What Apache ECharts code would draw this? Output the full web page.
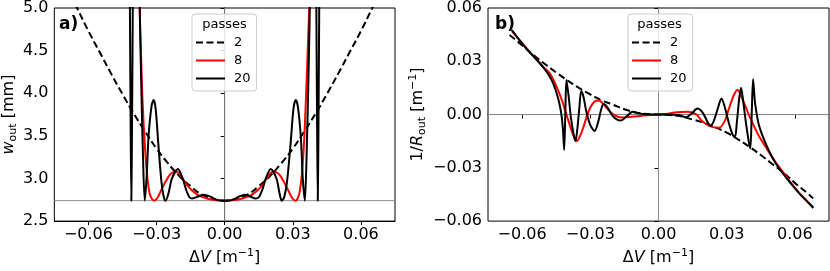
<!DOCTYPE html>
<html>
<head>
<meta charset="utf-8">
<script src="https://cdn.jsdelivr.net/npm/echarts@6/dist/echarts.min.js"></script>
<style>html,body{margin:0;padding:0;background:#fff}#c{width:830px;height:271px}</style>
</head>
<body>
<div id="c"></div>
<script>
// ---- data ----
const xTicks = [-0.06, -0.03, 0, 0.03, 0.06];
const passNames = ['2', '8', '20'];
const wRef = 2.74;

// panel a) w_out [mm]
const w2 = [[-0.070,5.27],[-0.065,5.00],[-0.060,4.73],[-0.055,4.48],[-0.050,4.23],[-0.045,3.99],[-0.040,3.76],[-0.035,3.55],[-0.030,3.35],[-0.025,3.18],[-0.020,3.03],[-0.015,2.91],[-0.010,2.81],[-0.005,2.76],[0,2.74],[0.005,2.76],[0.010,2.81],[0.015,2.91],[0.020,3.03],[0.025,3.18],[0.030,3.35],[0.035,3.55],[0.040,3.76],[0.045,3.99],[0.050,4.23],[0.055,4.48],[0.060,4.73],[0.065,5.00],[0.070,5.27]];

const w8 = [[-0.070,8],[-0.0385,8],[-0.0376,5.2],[-0.0369,4.5],[-0.0362,3.93],[-0.0351,3.37],[-0.0340,3.0],[-0.0330,2.82],[-0.0320,2.76],[-0.0310,2.74],[-0.0295,2.78],[-0.0280,2.86],[-0.0267,2.93],[-0.0245,3.03],[-0.0230,3.07],[-0.0216,3.08],[-0.0200,3.06],[-0.0190,3.02],[-0.0165,2.92],[-0.0135,2.84],[-0.0106,2.79],[-0.0070,2.76],[-0.0033,2.745],[0,2.74],
  [0.0033,2.745],[0.0070,2.76],[0.0106,2.79],[0.0135,2.84],[0.0165,2.92],[0.0190,3.02],[0.0200,3.06],[0.0214,3.08],[0.0230,3.07],[0.0245,3.03],[0.0267,2.93],[0.0280,2.86],[0.0295,2.78],[0.0310,2.74],[0.0320,2.76],[0.0330,2.84],[0.0340,3.05],[0.0350,3.45],[0.0358,3.95],[0.0367,4.6],[0.0374,5.2],[0.0383,8],[0.070,8]];

const w20 = [[-0.070,8],[-0.0425,8],[-0.0418,5.3],[-0.0414,3.6],[-0.0411,2.74],[-0.0408,3.6],[-0.0404,5.3],[-0.0398,8],[-0.0382,8],[-0.0375,5.2],[-0.0368,4.2],[-0.0360,3.3],[-0.0352,2.74],[-0.0344,3.0],[-0.0335,3.5],[-0.0322,3.85],[-0.0313,3.92],[-0.0304,3.82],[-0.0292,3.4],[-0.0278,2.95],[-0.0268,2.78],[-0.0260,2.74],[-0.0248,2.82],[-0.0232,3.0],[-0.0206,3.11],[-0.0185,3.0],[-0.0170,2.87],[-0.0155,2.78],[-0.0143,2.765],[-0.0120,2.785],[-0.0092,2.81],[-0.0065,2.79],[-0.0040,2.755],[-0.0020,2.742],[0,2.74],
  [0.0020,2.742],[0.0040,2.755],[0.0065,2.79],[0.0090,2.81],[0.0115,2.785],[0.0136,2.765],[0.0150,2.78],[0.0166,2.87],[0.0181,3.0],[0.0203,3.11],[0.0228,3.0],[0.0242,2.82],[0.0251,2.74],[0.0262,2.78],[0.0274,2.95],[0.0290,3.4],[0.0303,3.82],[0.0313,3.92],[0.0322,3.85],[0.0335,3.5],[0.0344,3.0],[0.0353,2.74],[0.0361,3.3],[0.0369,4.2],[0.0376,5.2],[0.0383,8],[0.0397,8],[0.0403,5.3],[0.0407,3.6],[0.0410,2.74],[0.0413,3.6],[0.0417,5.3],[0.0424,8],[0.070,8]];

// panel b) 1/R_out [m^-1]
const r2 = [[-0.0655,0.0448],[-0.060,0.039],[-0.055,0.0335],[-0.050,0.0285],[-0.045,0.0237],[-0.040,0.0192],[-0.035,0.015],[-0.030,0.0113],[-0.025,0.008],[-0.020,0.0055],[-0.015,0.003],[-0.010,0.0012],[-0.005,0.0003],[0,0],[0.005,-0.0003],[0.010,-0.001],[0.015,-0.0028],[0.020,-0.0046],[0.025,-0.0072],[0.030,-0.0102],[0.035,-0.014],[0.040,-0.0182],[0.045,-0.0228],[0.050,-0.0278],[0.055,-0.0328],[0.060,-0.0385],[0.065,-0.0438],[0.068,-0.0472]];

const r8 = [[-0.0645,0.047],[-0.062,0.0432],[-0.0595,0.0395],[-0.057,0.0358],[-0.0551,0.0332],[-0.053,0.0302],[-0.0508,0.027],[-0.0478,0.0232],[-0.0449,0.0159],[-0.0427,0.0088],[-0.0405,0.0],[-0.0391,-0.0056],[-0.0375,-0.0115],[-0.0359,-0.0149],[-0.0345,-0.012],[-0.0330,-0.007],[-0.0318,-0.002],[-0.0300,0.004],[-0.0280,0.0075],[-0.0262,0.0079],[-0.0240,0.0055],[-0.0220,0.0025],[-0.0201,0.0003],[-0.0180,-0.0012],[-0.0158,-0.0016],[-0.012,-0.0013],[-0.008,-0.0008],[-0.004,-0.0002],[0,0],[0.004,0.0005],[0.008,0.0013],[0.013,0.0016],[0.0165,0.0002],[0.0193,-0.0038],[0.0225,-0.0065],[0.0266,-0.0074],[0.0290,-0.004],[0.0310,0.0034],[0.0330,0.0105],[0.0347,0.0140],[0.0370,0.0085],[0.0397,0.0],[0.0420,-0.0065],[0.0441,-0.0119],[0.0463,-0.0165],[0.0484,-0.0208],[0.0514,-0.0266],[0.0543,-0.0316],[0.0580,-0.038],[0.0620,-0.0442],[0.0650,-0.0482],[0.0681,-0.0522]];

const r20 = [[-0.0645,0.0475],[-0.062,0.0433],[-0.0595,0.0393],[-0.057,0.0355],[-0.0551,0.033],[-0.053,0.030],[-0.0508,0.0267],[-0.049,0.0237],[-0.0478,0.0213],[-0.0462,0.0172],[-0.0449,0.0124],[-0.0437,0.0068],[-0.0427,0.0],[-0.0420,-0.009],[-0.0415,-0.0199],[-0.0410,0.0],[-0.0405,0.0195],[-0.0395,0.010],[-0.0385,-0.002],[-0.0372,-0.012],[-0.0365,-0.0149],[-0.0357,-0.008],[-0.0348,0.004],[-0.0340,0.0133],[-0.0330,0.010],[-0.0318,0.002],[-0.0300,-0.006],[-0.0281,-0.0092],[-0.0265,-0.004],[-0.0252,0.003],[-0.0242,0.0059],[-0.0225,0.004],[-0.0200,-0.001],[-0.0180,-0.003],[-0.0165,-0.0034],[-0.0140,-0.001],[-0.0114,0.0016],[-0.0090,0.0008],[-0.006,0.0002],[0,0],[0.006,-0.0001],[0.0091,-0.0003],[0.012,-0.0016],[0.0145,0.0005],[0.0171,0.0034],[0.0195,0.0010],[0.0215,-0.004],[0.0229,-0.0065],[0.0245,-0.003],[0.0262,0.004],[0.0277,0.0091],[0.0292,0.004],[0.0310,-0.005],[0.0325,-0.011],[0.0336,-0.0128],[0.0345,-0.004],[0.0355,0.009],[0.0363,0.0151],[0.0372,0.008],[0.0385,-0.005],[0.0398,-0.016],[0.0404,-0.019],[0.0410,0.0],[0.0416,0.0199],[0.0421,0.012],[0.0426,0.0052],[0.0441,-0.0056],[0.0463,-0.0137],[0.0490,-0.0215],[0.0514,-0.0271],[0.0543,-0.0325],[0.0580,-0.0385],[0.0620,-0.0445],[0.0650,-0.0485],[0.0681,-0.0526]];

// ---- chart ----
const FF = 'DejaVu Sans';
const minus = s => s.replace('-', '\u2212');
const rich = {
  n: {fontSize: 16, fontFamily: FF, color: '#000', lineHeight: 20},
  i: {fontSize: 16, fontFamily: FF, fontStyle: 'italic', color: '#000', lineHeight: 20},
  s: {fontSize: 11, fontFamily: FF, color: '#000', lineHeight: 11, verticalAlign: 'bottom'},
  p: {fontSize: 11, fontFamily: FF, color: '#000', lineHeight: 11, verticalAlign: 'top'}
};
function xAxisCfg(gi) {
  return {
    type: 'value', gridIndex: gi, min: -0.075, max: 0.075,
    name: '{n|\u0394}{i|V}{n| [m}{p|\u22121}{n|]}', nameLocation: 'middle', nameGap: 22,
    nameTextStyle: {rich: rich},
    axisLine: {show: true, lineStyle: {color: '#000', width: 1}},
    axisTick: {show: true, length: 4, lineStyle: {color: '#000'}, customValues: xTicks},
    axisLabel: {customValues: xTicks, margin: 6, fontSize: 16, fontFamily: FF, color: '#000',
      formatter: v => minus(v.toFixed(2))},
    splitLine: {show: false}
  };
}
function yAxisCfg(gi, min, max, interval, dec, name, gap) {
  return {
    type: 'value', gridIndex: gi, min: min, max: max, interval: interval,
    name: name, nameLocation: 'middle', nameGap: gap, nameTextStyle: {rich: rich},
    axisLine: {show: true, lineStyle: {color: '#000', width: 1}},
    axisTick: {show: true, length: 4, lineStyle: {color: '#000'}},
    axisLabel: {margin: 6, fontSize: 16, fontFamily: FF, color: '#000',
      formatter: v => minus(v.toFixed(dec))},
    splitLine: {show: false}
  };
}
function refLine(gi, data) {
  return {type: 'line', name: 'ref', xAxisIndex: gi, yAxisIndex: gi, data: data, symbol: 'none',
    silent: true, z: 1, lineStyle: {color: '#8c8c8c', width: 1}, itemStyle: {color: '#8c8c8c'}};
}
function curve(gi, name, data, color, dashed) {
  return {type: 'line', name: name, xAxisIndex: gi, yAxisIndex: gi, data: data, symbol: 'none',
    showSymbol: false, smooth: dashed ? true : 0.3, color: color, z: 2,
    lineStyle: {color: color, width: 2, type: dashed ? [7, 3.5] : 'solid'},
    itemStyle: {color: color}};
}
function legendCfg(left) {
  return {data: passNames, orient: 'vertical', left: left, top: 14, itemWidth: 29, itemHeight: 14,
    itemGap: 5, padding: [22, 6, 6, 3], backgroundColor: 'rgba(255,255,255,0.8)',
    borderColor: '#cccccc', borderWidth: 1, borderRadius: 3, selectedMode: false, z: 5,
    itemStyle: {opacity: 0, borderWidth: 0},
    textStyle: {fontSize: 13, fontFamily: FF, color: '#000', padding: [0, 0, 0, 4]}};
}
function gtext(x, y, text, size, bold) {
  return {type: 'text', x: x, y: y, z: 100,
    style: {text: text, fontSize: size, fontFamily: FF, fontWeight: bold ? 'bold' : 'normal',
      fill: '#000', align: bold ? 'left' : 'center', verticalAlign: 'middle'}};
}

const chart = echarts.init(document.getElementById('c'), null, {renderer: 'canvas'});
chart.setOption({
  animation: false,
  backgroundColor: '#fff',
  grid: [
    {left: 53, top: 5, width: 342, height: 223, show: true, borderColor: '#000', borderWidth: 1, backgroundColor: 'transparent'},
    {left: 488, top: 5, width: 341, height: 223, show: true, borderColor: '#000', borderWidth: 1, backgroundColor: 'transparent'}
  ],
  xAxis: [xAxisCfg(0), xAxisCfg(1)],
  yAxis: [
    yAxisCfg(0, 2.5, 5.0, 0.5, 1, '{i|w}{s|out}{n| [mm]}', 35),
    yAxisCfg(1, -0.06, 0.06, 0.03, 2, '{n|1/}{i|R}{s|out}{n| [m}{p|\u22121}{n|]}', 60)
  ],
  legend: [legendCfg(192), legendCfg(628)],
  graphic: [
    gtext(224.5, 25, 'passes', 13, false),
    gtext(659.5, 25, 'passes', 13, false),
    gtext(59, 25, 'a)', 17, true),
    gtext(495, 25, 'b)', 17, true)
  ],
  series: [
    refLine(0, [[-0.075, wRef], [0.075, wRef]]),
    refLine(0, [[0, 2.5], [0, 5.0]]),
    refLine(1, [[-0.075, 0], [0.075, 0]]),
    refLine(1, [[0, -0.06], [0, 0.06]]),
    curve(0, '2', w2, '#000', true),
    curve(0, '8', w8, '#ff0000', false),
    curve(0, '20', w20, '#000', false),
    curve(1, '2', r2, '#000', true),
    curve(1, '8', r8, '#ff0000', false),
    curve(1, '20', r20, '#000', false)
  ]
});
</script>
</body>
</html>
